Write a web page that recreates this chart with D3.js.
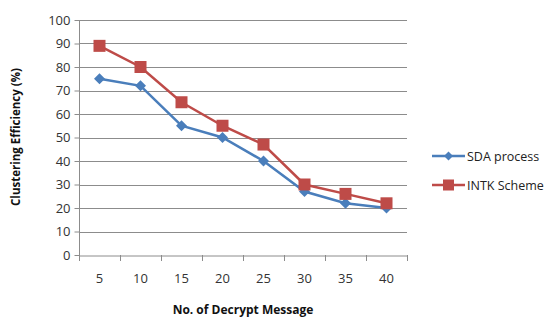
<!DOCTYPE html>
<html><head><meta charset="utf-8">
<script src="https://cdn.jsdelivr.net/npm/d3@7"></script>
<style>body{margin:0;background:#fff}svg{display:block}</style>
</head><body>
<svg id="c" width="553" height="317"></svg>
<script>
const categories = ["5","10","15","20","25","30","35","40"];
const sdaValues = [75, 72, 55, 50, 40, 27, 22, 20];
const intkValues = [89, 80, 65, 55, 47, 30, 26, 22];
const yTicks = [0,10,20,30,40,50,60,70,80,90,100];
const seriesNames = ["SDA process", "INTK Scheme"];

(function(){
const svg = d3.select("#c");
const font = "'Open Sans', 'Liberation Sans', sans-serif";
const pL = 79, pR = 407, pT = 20, pB = 255;
const x = d3.scaleBand().domain(categories).range([pL, pR]);
const y = d3.scaleLinear().domain([0,100]).range([pB, pT]);

// gridlines
svg.append("g").selectAll("line").data(yTicks.filter(d=>d>0)).join("line")
  .attr("x1", pL).attr("x2", pR)
  .attr("y1", d=>Math.round(y(d))+0.5).attr("y2", d=>Math.round(y(d))+0.5)
  .attr("stroke", "#8c8c8c").attr("stroke-width", 1);

// y axis
const ya = svg.append("g").attr("transform", `translate(${pL+0.5},0)`)
  .call(d3.axisLeft(y).tickValues(yTicks).tickSize(5).tickPadding(4));
ya.select(".domain").attr("stroke", "#8c8c8c").attr("d", `M0,${pT}V${pB+0.5}`);
ya.selectAll(".tick line").attr("stroke", "#8c8c8c");
ya.selectAll("text").attr("font-family", font).attr("font-size", 13).attr("fill", "#333");

// x axis
const xa = svg.append("g").attr("transform", `translate(0,${pB+0.5})`)
  .call(d3.axisBottom(x).tickSize(0).tickPadding(18));
xa.select(".domain").attr("stroke", "#8c8c8c");
xa.selectAll("text").attr("font-family", font).attr("font-size", 13).attr("fill", "#333");
const xtk = categories.map(c=>x(c)).concat([pR]);
svg.append("g").selectAll("line").data(xtk).join("line")
  .attr("x1", d=>Math.round(d)+0.5).attr("x2", d=>Math.round(d)+0.5)
  .attr("y1", pB).attr("y2", pB+6).attr("stroke", "#8c8c8c");

const cx = c => x(c) + x.bandwidth()/2;
const line = d3.line().x((d,i)=>cx(categories[i])).y(d=>y(d));

const colors = ["#4a7ebb", "#be4b48"];
const diamond = r => `M0,${-r}L${r},0L0,${r}L${-r},0Z`;
// SDA
svg.append("path").datum(sdaValues).attr("d", line).attr("fill","none")
  .attr("stroke", colors[0]).attr("stroke-width", 2.5);
svg.append("g").selectAll("path").data(sdaValues).join("path")
  .attr("d", diamond(5.5))
  .attr("transform", (d,i)=>`translate(${cx(categories[i])},${y(d)})`)
  .attr("fill", colors[0]);
// INTK
svg.append("path").datum(intkValues).attr("d", line).attr("fill","none")
  .attr("stroke", colors[1]).attr("stroke-width", 2.5);
svg.append("g").selectAll("rect").data(intkValues).join("rect")
  .attr("x", (d,i)=>cx(categories[i])-6).attr("y", d=>y(d)-6)
  .attr("width", 12).attr("height", 12).attr("fill", colors[1]);

// axis titles
svg.append("text").attr("x", 243).attr("y", 314).attr("text-anchor","middle")
  .attr("font-family", font).attr("font-size", 12).attr("font-weight","bold").attr("fill","#111")
  .text("No. of Decrypt Message");
svg.append("text").attr("transform", `translate(20,137) rotate(-90)`).attr("text-anchor","middle")
  .attr("font-family", font).attr("font-size", 11.5).attr("font-weight","bold").attr("fill","#111")
  .text("Clustering Efficiency (%)");

// legend
const leg = svg.append("g");
const ly = [156, 185];
seriesNames.forEach((n,i)=>{
  leg.append("line").attr("x1", 432).attr("x2", 465).attr("y1", ly[i]).attr("y2", ly[i])
    .attr("stroke", colors[i]).attr("stroke-width", 2.5);
  if (i===0) leg.append("path").attr("d", diamond(4.5))
    .attr("transform", `translate(448.5,${ly[i]})`).attr("fill", colors[i]);
  else leg.append("rect").attr("x", 443).attr("y", ly[i]-5.5).attr("width", 11).attr("height", 11).attr("fill", colors[i]);
  leg.append("text").attr("x", 467).attr("y", ly[i]+4.5).attr("font-family", font)
    .attr("font-size", 12.5).attr("fill", "#222").text(n);
});
})();
</script>
</body></html>
